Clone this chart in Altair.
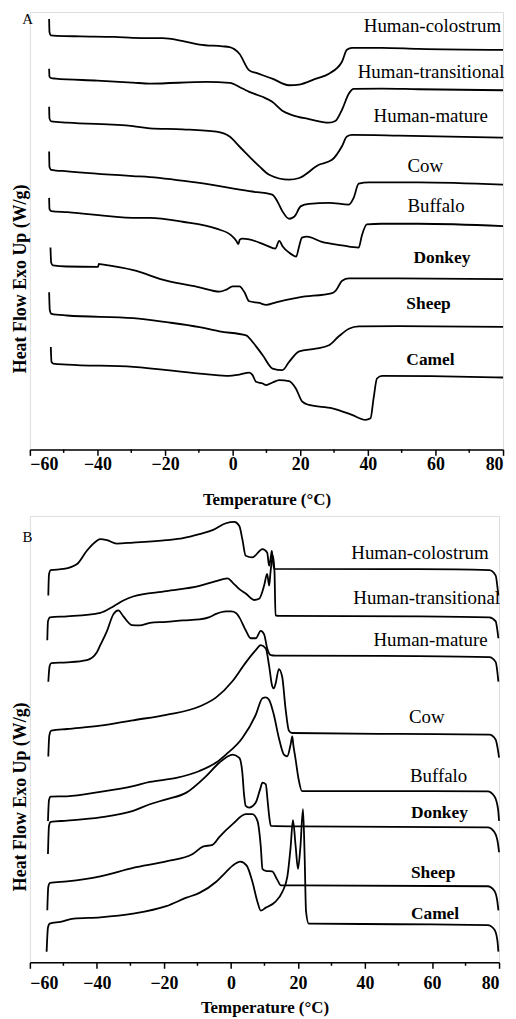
import altair as alt
import pandas as pd

FONT = "Liberation Serif"
SERIES = ["Human-colostrum", "Human-transitional", "Human-mature", "Cow",
          "Buffalo", "Donkey", "Sheep", "Camel"]
BOLD = [False, False, False, False, False, True, True, True]

# ---------------- Panel A (heating-type curves), heat flow in offset units ----------------
a_colostrum_t = [-54.3, -54.2, -53.8, -52.0, -45.0, -35.0, -29.5, -24.5, -20.7, -15.0, -9.8, -3.0, -0.9, 2.0, 4.9, 7.0, 11.7, 16.7, 19.7, 24.7, 28.5, 32.3, 33.8, 35.3, 44.1, 55.0, 80.0]
a_colostrum_hf = [433, 420, 416.5, 416, 415.5, 415, 414, 413.7, 413.7, 411, 407.3, 405.5, 404.7, 398, 381.3, 378.7, 373, 366.3, 367, 373, 378, 389.7, 402, 404, 404, 403, 402]

a_transitional_t = [-54.3, -54.2, -53.7, -52.4, -40.0, -29.5, -24.5, -7.7, -0.9, 2.9, 4.9, 8.8, 11.7, 14.7, 17.6, 22.6, 28.5, 30.5, 32.3, 34.4, 35.8, 44.1, 55.0, 80.0]
a_transitional_hf = [383, 375, 373.5, 373, 371, 369, 368, 369.7, 368.7, 363, 359.7, 354.7, 349.7, 340.7, 336.3, 332.3, 328.7, 330.7, 341.3, 358, 362.7, 363, 362.3, 361.3]

a_mature_t = [-54.3, -54.2, -53.7, -48.9, -29.5, -24.5, -14.8, -4.8, -0.9, 2.0, 7.9, 10.8, 16.7, 19.7, 25.5, 29.4, 32.3, 33.8, 35.3, 49.1, 80.0]
a_mature_hf = [344.7, 333, 330, 328.7, 325.3, 323, 322, 319.7, 314.7, 304.7, 284.7, 276.3, 271.3, 273, 286.3, 291.3, 304.7, 314.7, 316.3, 315.7, 313.7]

a_cow_t = [-54.3, -54.2, -53.7, -48.9, -29.5, -24.5, -9.8, 4.9, 11.7, 13.2, 14.7, 16.7, 18.2, 20.2, 22.6, 28.5, 34.4, 35.8, 37.3, 40.3, 55.0, 80.0]
a_cow_hf = [299.7, 284, 281.3, 279.7, 275, 274, 268, 259.7, 256.3, 249.7, 239.7, 232, 234, 244.7, 247, 248, 246.3, 253, 267.3, 268.7, 268.7, 266.3]

a_buffalo_t = [-54.3, -54.2, -53.7, -48.9, -29.5, -24.5, -14.8, -4.8, -0.4, 1.1, 1.7, 2.1, 2.9, 4.9, 9.9, 12.6, 13.8, 14.7, 16.7, 18.8, 19.7, 20.5, 22.0, 26.4, 32.3, 37.3, 38.2, 39.7, 44.1, 55.0, 80.0]
a_buffalo_hf = [253, 242, 239.7, 238.7, 233, 233, 229, 222, 215.3, 209.7, 206.5, 211, 212, 211.3, 205.3, 202, 209.7, 204.7, 198, 194, 204.7, 213, 214, 208.7, 205.3, 203, 214.7, 226.3, 227, 227, 224.7]

a_donkey_t = [-53.9, -53.7, -53.2, -49.0, -39.8, -39.6, -39.2, -29.4, -19.6, -9.8, -3.9, -1.9, 0.0, 2.0, 3.5, 4.9, 7.9, 9.9, 12.8, 19.7, 29.5, 30.5, 32.4, 34.4, 49.1, 80.0]
a_donkey_hf = [203, 188, 185, 184, 183.7, 186.5, 186.3, 180.3, 169.7, 163, 158.7, 160.7, 164, 164, 158, 149, 147.3, 145.3, 148, 153, 157.3, 159.7, 169.7, 172, 172, 171.3]

a_sheep_t = [-54.3, -54.1, -53.6, -49.0, -29.4, -19.6, -9.8, -3.9, 4.0, 5.9, 8.9, 11.8, 14.7, 16.7, 19.7, 24.6, 28.5, 31.5, 34.4, 37.3, 49.1, 80.0]
a_sheep_hf = [158, 140, 136.3, 134.7, 132, 128, 123, 118.7, 114.7, 108, 94.7, 81.3, 79.7, 88, 98.7, 101.3, 104.7, 114, 121.3, 123.7, 124, 123.3]

a_camel_t = [-53.8, -53.6, -53.1, -49.0, -29.4, -9.8, -1.9, 2.0, 4.9, 5.9, 6.9, 8.9, 9.9, 11.8, 13.8, 16.7, 18.7, 20.6, 22.6, 29.5, 35.3, 39.3, 40.8, 41.7, 42.7, 44.2, 58.9, 80.0]
a_camel_hf = [103, 88, 86.3, 85.3, 83, 76.3, 74, 75.3, 77.3, 74.7, 68, 66.3, 64.7, 67.3, 69.7, 68.7, 61.3, 48, 44.7, 41.3, 34.7, 29.7, 31.3, 51.3, 71.3, 74, 73.7, 72.3]

# ---------------- Panel B (cooling-type curves) ----------------
b_colostrum_t = [-54.5, -54.3, -53.8, -49.9, -45.9, -43.0, -40.0, -39.0, -37.0, -34.1, -29.2, -19.3, -14.3, -9.4, -5.5, -1.5, 1.0, 2.5, 3.4, 4.4, 6.4, 9.4, 10.8, 11.4, 11.9, 12.2, 12.5, 12.9, 55.8, 77.1, 79.0, 79.5, 79.8]
b_colostrum_hf = [369, 390, 394.5, 395.7, 400.7, 414, 424, 425.7, 424.7, 421.3, 422.3, 424.7, 426.7, 430.7, 434.7, 441.7, 443, 439, 425.7, 409, 407.3, 415.7, 412.3, 399, 408, 414, 404, 395.7, 395.5, 394.5, 389, 378, 369]

b_transitional_t = [-54.8, -54.6, -54.0, -48.9, -39.0, -35.1, -32.1, -29.2, -19.3, -9.4, -4.5, -1.0, 0.5, 2.4, 4.4, 6.9, 8.4, 9.9, 10.8, 11.4, 11.8, 12.5, 13.0, 13.3, 14.3, 55.8, 77.1, 79.0, 79.5, 79.8]
b_transitional_hf = [324, 343, 347, 348, 351.5, 358, 364, 368, 373.3, 378.7, 383.5, 386.3, 382, 375.7, 371, 364.5, 365.7, 379, 390.7, 379, 392.3, 409, 392.3, 349, 348.5, 348, 347, 343, 334, 326]

b_mature_t = [-54.5, -54.1, -53.6, -48.9, -43.0, -40.0, -39.0, -37.0, -35.1, -33.6, -32.1, -29.6, -27.2, -24.2, -19.3, -14.3, -9.4, -6.4, -4.4, -1.5, 0.1, 1.5, 2.5, 4.4, 5.9, 7.4, 8.9, 9.9, 10.8, 11.9, 13.3, 55.8, 77.1, 79.0, 79.5, 79.8]
b_mature_hf = [282.3, 298, 301, 301.7, 304, 312, 319, 333.2, 350, 354, 348, 339.3, 339, 341.5, 342.5, 344, 345, 347.3, 350.5, 353, 353, 351.5, 347, 334, 326, 326, 333.5, 330, 316, 309, 308.5, 308, 307, 302, 292, 282.3]

b_cow_t = [-54.5, -54.2, -53.6, -48.9, -39.0, -29.2, -19.3, -9.4, -4.4, 0.5, 4.4, 7.4, 8.9, 10.4, 11.4, 12.3, 12.8, 13.3, 14.3, 15.3, 16.3, 17.3, 18.3, 49.9, 77.1, 79.0, 79.6, 80.0]
b_cow_hf = [207, 228, 233, 234.7, 238, 243.5, 249, 257.3, 266.5, 283, 301.5, 314, 319, 315.7, 298, 278, 275.5, 280, 295, 287, 255, 233, 230.7, 229.7, 229, 224, 215, 206]

b_buffalo_t = [-54.6, -54.3, -53.8, -48.9, -39.0, -29.2, -24.2, -16.3, -9.4, -4.4, -1.5, 3.4, 7.4, 9.4, 10.4, 11.4, 12.8, 14.3, 15.8, 16.8, 17.8, 18.3, 18.6, 19.3, 20.2, 21.2, 49.9, 76.6, 78.6, 79.7, 80.0]
b_buffalo_hf = [142, 163, 166.7, 167, 171.5, 177.3, 181.5, 185.5, 192.5, 201, 209, 225.7, 249, 265.7, 266.5, 264, 249, 225.7, 209, 207.3, 219, 227.3, 219, 204, 184, 172.3, 172.3, 172, 167, 154, 142.3]

b_donkey_t = [-54.6, -54.3, -53.8, -48.9, -39.0, -29.2, -24.2, -19.3, -13.3, -7.4, -3.5, 0.5, 2.5, 3.4, 3.9, 4.4, 5.4, 7.4, 8.7, 9.4, 10.4, 10.9, 11.4, 11.9, 20.3, 76.6, 78.6, 79.7, 80.0]
b_donkey_hf = [109, 137, 141.3, 142.5, 145.7, 152.3, 159, 164, 170.7, 187.3, 200.7, 209, 205.7, 190.7, 169, 157.3, 155.7, 160.7, 174, 180.7, 179, 164, 147.3, 137.3, 136.7, 135.7, 131, 119, 110.7]

b_sheep_t = [-54.8, -54.5, -54.0, -48.9, -39.0, -29.2, -19.3, -11.4, -8.4, -5.5, -3.5, 0.5, 4.4, 6.4, 7.9, 8.9, 9.4, 10.4, 12.3, 13.8, 14.9, 20.2, 76.6, 78.6, 79.5, 79.8]
b_sheep_hf = [52.3, 76, 80, 81.5, 86.5, 95, 101.5, 109, 116.3, 118.2, 126, 139, 149, 149, 142.3, 116.5, 94, 92, 91.5, 83.2, 77.3, 77.3, 76.5, 72, 61, 52.3]

b_camel_t = [-55.0, -54.6, -54.1, -50.9, -46.9, -39.0, -29.2, -19.3, -13.3, -9.4, -4.4, -1.5, 0.5, 2.8, 4.7, 6.4, 7.9, 8.9, 10.4, 13.3, 15.3, 16.8, 17.8, 18.5, 19.3, 20.0, 20.7, 21.5, 22.0, 22.4, 23.2, 49.9, 76.6, 78.6, 79.5, 79.8]
b_camel_hf = [10.7, 35, 39, 40.7, 44, 45.3, 49, 56.5, 65, 69.8, 81, 90.7, 97.3, 101.3, 97.3, 81, 61, 52, 55, 61, 70.7, 85.7, 115.7, 143, 117, 94, 115, 154, 105, 51.5, 39, 38.3, 37.5, 33, 22, 10.7]

# curve label anchors (temperature, heat-flow units)
a_label_t = [38.8, 37.0, 41.7, 51.7, 51.7, 53.5, 51.4, 51.4]
a_label_hf = [426, 380, 335, 285, 245, 193, 146, 90]
b_label_t = [35.9, 36.5, 42.5, 53.1, 53.4, 53.7, 53.7, 53.7]
b_label_hf = [412, 366, 324, 247, 187, 150, 90, 49]

MAJOR_TICKS = [-60, -40, -20, 0, 20, 40, 60, 80]
MINOR_TICKS = [-50, -30, -10, 10, 30, 50, 70]

A_CURVES = [(a_colostrum_t, a_colostrum_hf), (a_transitional_t, a_transitional_hf),
            (a_mature_t, a_mature_hf), (a_cow_t, a_cow_hf), (a_buffalo_t, a_buffalo_hf),
            (a_donkey_t, a_donkey_hf), (a_sheep_t, a_sheep_hf), (a_camel_t, a_camel_hf)]
B_CURVES = [(b_colostrum_t, b_colostrum_hf), (b_transitional_t, b_transitional_hf),
            (b_mature_t, b_mature_hf), (b_cow_t, b_cow_hf), (b_buffalo_t, b_buffalo_hf),
            (b_donkey_t, b_donkey_hf), (b_sheep_t, b_sheep_hf), (b_camel_t, b_camel_hf)]


def curve_frame(curves):
    rows = []
    for name, (ts, hs) in zip(SERIES, curves):
        for i, (t, h) in enumerate(zip(ts, hs)):
            rows.append({"curve": name, "i": i, "T": t, "H": h})
    return pd.DataFrame(rows)


def panel(curves, lab_t, lab_hf, letter, letter_hf, letter_baseline,
          width, height, lab_pad, xtitle_y, ytitle_y):
    x_enc = alt.X("T:Q", scale=alt.Scale(domain=[-60, 80], nice=False, zero=False),
                  axis=alt.Axis(values=MAJOR_TICKS, tickSize=6, tickWidth=1.5,
                                tickColor="black", domainColor="black", domainWidth=1.5,
                                labelFont=FONT, labelFontSize=18, labelFontWeight="bold",
                                labelColor="black", labelPadding=lab_pad,
                                labelBaseline="middle", grid=False,
                                title="Temperature (°C)", titleFont=FONT,
                                titleFontSize=17, titleFontWeight="bold",
                                titleColor="black", titleY=xtitle_y,
                                titleBaseline="middle"))
    y_enc = alt.Y("H:Q", scale=alt.Scale(domain=[0, height], nice=False, zero=False),
                  axis=alt.Axis(labels=False, ticks=False, domain=False, grid=False,
                                title="Heat Flow Exo Up (W/g)", titleFont=FONT,
                                titleFontSize=18, titleFontWeight="bold",
                                titleColor="black", titleX=-9, titleY=ytitle_y,
                                titleAngle=270, titleAlign="center",
                                titleBaseline="middle"))
    df = curve_frame(curves)
    lines = alt.Chart(df).mark_line(color="black", strokeWidth=1.8,
                                    interpolate="monotone").encode(
        x=x_enc, y=y_enc, detail="curve:N", order="i:Q")
    lab = pd.DataFrame({"name": SERIES, "T": lab_t, "H": lab_hf, "bold": BOLD})
    lab_n = alt.Chart(lab[~lab["bold"]]).mark_text(
        align="left", baseline="middle", font=FONT, fontSize=19, color="black").encode(
        x=x_enc, y=y_enc, text="name:N")
    lab_b = alt.Chart(lab[lab["bold"]]).mark_text(
        align="left", baseline="middle", font=FONT, fontSize=17.5, fontWeight="bold",
        color="black").encode(x=x_enc, y=y_enc, text="name:N")
    let = alt.Chart(pd.DataFrame({"name": [letter], "T": [-60.7], "H": [letter_hf]})).mark_text(
        align="center", baseline=letter_baseline, font=FONT, fontSize=15, color="black").encode(
        x=x_enc, y=y_enc, text="name:N")
    minor = alt.Chart(pd.DataFrame({"T": MINOR_TICKS})).mark_rule(
        color="black", strokeWidth=1.5).encode(
        x=x_enc, y=alt.value(height), y2=alt.value(height + 3.5))
    return alt.layer(lines, lab_n, lab_b, let, minor).properties(width=width, height=height)


panel_a = panel(A_CURVES, a_label_t, a_label_hf, "A", 440, "top",
                476, 440, 9, 50, 268)
panel_b = panel(B_CURVES, b_label_t, b_label_hf, "B", 428, "middle",
                472, 449, 15, 45, 282)

chart = alt.vconcat(panel_a, panel_b, spacing=7).properties(
    padding={"left": 3, "top": 0, "right": 0, "bottom": 0}
).configure_view(stroke=None).configure(background="white")

chart.save("out.html", embed_options={"renderer": "svg", "actions": False})
